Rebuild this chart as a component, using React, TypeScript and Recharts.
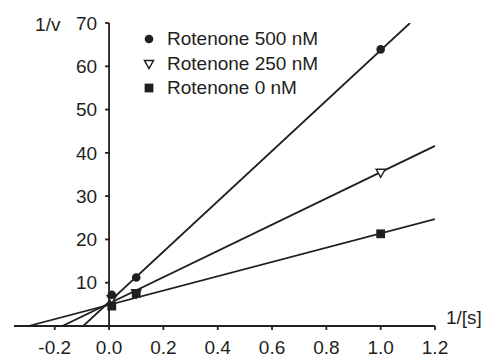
import React from 'react';
import { ComposedChart, Line, Scatter, XAxis, YAxis, ReferenceLine, Legend } from 'recharts';

const xTicks = [-0.2, 0, 0.2, 0.4, 0.6, 0.8, 1.0, 1.2];
const yTicks = [10, 20, 30, 40, 50, 60, 70];

const pts500 = [
  { x: 0.01, y: 7.2 },
  { x: 0.1, y: 11.2 },
  { x: 1.0, y: 63.9 },
];
const pts250 = [
  { x: 0.01, y: 6.2 },
  { x: 0.1, y: 7.5 },
  { x: 1.0, y: 35.4 },
];
const pts0 = [
  { x: 0.01, y: 4.6 },
  { x: 0.1, y: 7.5 },
  { x: 1.0, y: 21.3 },
];

const fit500 = [
  { x: -0.095, y: 0 },
  { x: 1.108, y: 70 },
];
const fit250 = [
  { x: -0.172, y: 0 },
  { x: 1.2, y: 41.6 },
];
const fit0 = [
  { x: -0.297, y: 0 },
  { x: 1.2, y: 24.7 },
];

const seriesNames = ['Rotenone 500 nM', 'Rotenone 250 nM', 'Rotenone 0 nM'];
const seriesSymbols = ['circle', 'triangle', 'square'];

const ink = '#231f20';
const font = '"Liberation Sans", Arial, sans-serif';
const fs = 19;
const yTickLen = 0.0147;
const lw = 1.8;

const CircleMark = (p: any) => <circle cx={p.cx} cy={p.cy} r={4.3} fill={ink} />;
const TriMark = (p: any) => (
  <path
    d={`M${p.cx - 4.5},${p.cy - 3.5}L${p.cx + 4.5},${p.cy - 3.5}L${p.cx},${p.cy + 4.5}Z`}
    fill="#fff"
    stroke={ink}
    strokeWidth={1.5}
  />
);
const SquareMark = (p: any) => (
  <rect x={p.cx - 4.4} y={p.cy - 4.4} width={8.8} height={8.8} fill={ink} />
);

const LegendSymbol = ({ kind }: { kind: string }) => (
  <svg width={12} height={12} style={{ display: 'block' }}>
    {kind === 'circle' && <circle cx={6} cy={6} r={4.3} fill={ink} />}
    {kind === 'triangle' && (
      <path d="M1.5,2.5L10.5,2.5L6,10.5Z" fill="#fff" stroke={ink} strokeWidth={1.5} />
    )}
    {kind === 'square' && <rect x={1.6} y={1.6} width={8.8} height={8.8} fill={ink} />}
  </svg>
);

const LegendContent = () => (
  <div style={{ fontFamily: font, fontSize: fs, color: ink }}>
    {seriesNames.map((n, i) => (
      <div
        key={n}
        style={{ display: 'flex', alignItems: 'center', height: 24.5, lineHeight: '24.5px', whiteSpace: 'nowrap' }}
      >
        <LegendSymbol kind={seriesSymbols[i]} />
        <span style={{ marginLeft: 12 }}>{n}</span>
      </div>
    ))}
  </div>
);

export default function App() {
  return (
    <div style={{ position: 'absolute', left: 0, top: 0, background: '#fff' }}>
      <ComposedChart
        width={496}
        height={359}
        margin={{ top: 23, right: 61, bottom: 0, left: 14 }}
        style={{ fontFamily: font }}
      >
        <XAxis
          type="number"
          dataKey="x"
          domain={[-0.35, 1.2]}
          allowDataOverflow
          ticks={xTicks}
          interval={0}
          tickFormatter={(v: number) => v.toFixed(1)}
          height={33}
          tickSize={4}
          tickMargin={11}
          tick={{ fontSize: fs, fill: ink, fontFamily: font }}
          tickLine={{ stroke: ink, strokeWidth: lw }}
          axisLine={{ stroke: ink, strokeWidth: lw }}
          label={{
            content: (props: any) => {
              const vb = props.viewBox || {};
              return (
                <text x={vb.x + vb.width + 11} y={vb.y - 2} fontSize={fs} fill={ink} fontFamily={font}>
                  1/[s]
                </text>
              );
            },
          }}
        />
        <YAxis type="number" dataKey="y" domain={[0, 70]} allowDataOverflow hide width={0} />

        <ReferenceLine
          segment={[
            { x: 0, y: 0 },
            { x: 0, y: 70 },
          ]}
          stroke={ink}
          strokeWidth={lw}
          ifOverflow="visible"
          label={{
            content: (props: any) => {
              const vb = props.viewBox || {};
              return (
                <text x={vb.x - 74} y={vb.y + 8} fontSize={fs} fill={ink} fontFamily={font}>
                  1/v
                </text>
              );
            },
          }}
        />
        {yTicks.map((v) => (
          <ReferenceLine
            key={v}
            segment={[
              { x: -yTickLen, y: v },
              { x: 0, y: v },
            ]}
            stroke={ink}
            strokeWidth={lw}
            ifOverflow="visible"
            label={{ value: String(v), position: 'left', offset: 8, fontSize: fs, fill: ink, fontFamily: font }}
          />
        ))}

        <Line data={fit500} dataKey="y" stroke={ink} strokeWidth={lw} dot={false} isAnimationActive={false} legendType="none" />
        <Line data={fit250} dataKey="y" stroke={ink} strokeWidth={lw} dot={false} isAnimationActive={false} legendType="none" />
        <Line data={fit0} dataKey="y" stroke={ink} strokeWidth={lw} dot={false} isAnimationActive={false} legendType="none" />

        <Scatter name={seriesNames[1]} data={pts250} shape={TriMark} isAnimationActive={false} />
        <Scatter name={seriesNames[0]} data={pts500} shape={CircleMark} isAnimationActive={false} />
        <Scatter name={seriesNames[2]} data={pts0} shape={SquareMark} isAnimationActive={false} />

        <Legend
          layout="vertical"
          align="center"
          verticalAlign="middle"
          wrapperStyle={{ left: 143, top: 27, width: 'auto', right: 'auto', bottom: 'auto' }}
          content={LegendContent}
        />
      </ComposedChart>
    </div>
  );
}
